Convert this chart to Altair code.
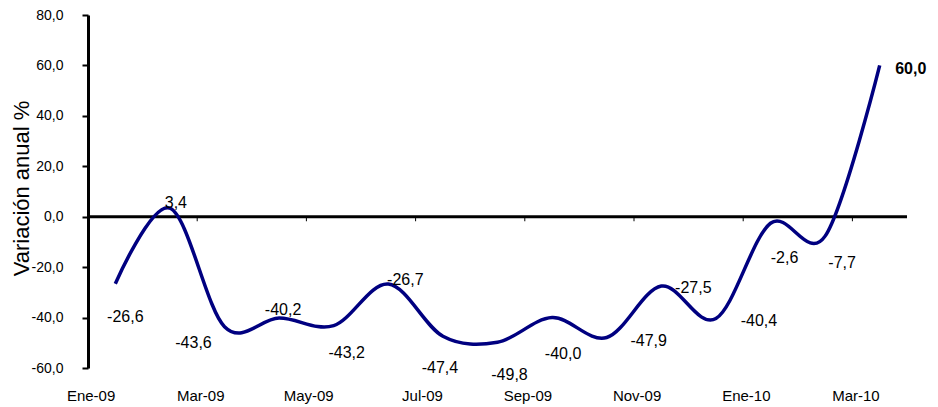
import altair as alt
import pandas as pd

months = ["Ene-09", "Feb-09", "Mar-09", "Abr-09", "May-09", "Jun-09", "Jul-09", "Ago-09",
          "Sep-09", "Oct-09", "Nov-09", "Dic-09", "Ene-10", "Feb-10", "Mar-10"]
values = [-26.6, 3.4, -43.6, -40.2, -43.2, -26.7, -47.4, -49.8,
          -40.0, -47.9, -27.5, -40.4, -2.6, -7.7, 60.0]
y_ticks = [-60, -40, -20, 0, 20, 40, 60, 80]

# label placement offsets (pixels) for each data label
label_dx = [10, 6, -31, 4, 13, 17, -3, 12, 11, 42, 32, 43, 14, 17, 31]
label_dy = [33, -5, 16, -8, 27, -4, 32, 33, 36, 4, 2, 2, 35, 27, 4]

axis_label_months = months[0::2]
tick_months = months[2::2]

df = pd.DataFrame({
    "month": months,
    "value": values,
    "label": [f"{v:.1f}".replace(".", ",") for v in values],
})

FONT = "Liberation Sans"
xscale = alt.Scale(type="band", domain=months, paddingInner=0, paddingOuter=0)
yscale = alt.Scale(domain=[-60, 80], nice=False, zero=False)

zero_line = alt.Chart(pd.DataFrame({"z": [0]})).mark_rule(color="black", strokeWidth=3).encode(
    y=alt.Y("z:Q", scale=yscale)
)

ticks = alt.Chart(pd.DataFrame({"month": tick_months})).mark_rule(color="black", strokeWidth=1).encode(
    x=alt.X("month:O", scale=xscale, bandPosition=0),
    y=alt.datum(0),
    y2=alt.datum(-1.8),
)

line = alt.Chart(df).mark_line(color="#000080", strokeWidth=3.5, interpolate="cardinal").encode(
    x=alt.X("month:O", scale=xscale, bandPosition=0.5,
            axis=alt.Axis(values=axis_label_months, title=None, domain=False, ticks=False,
                          tickSize=0, labelPadding=27, labelAngle=0, labelFontSize=15,
                          labelFont=FONT, labelColor="black", grid=False)),
    y=alt.Y("value:Q", scale=yscale,
            axis=alt.Axis(values=y_ticks, title="Variación anual %", grid=False,
                          labelExpr="(datum.value < 0 ? '-' : '') + replace(format(abs(datum.value), '.1f'), '.', ',')",
                          labelFontSize=14, labelFont=FONT, labelColor="black", labelPadding=19,
                          domainColor="black", domainWidth=3, tickColor="black", tickWidth=2,
                          tickSize=6, titleFont=FONT, titleFontSize=22, titleFontWeight="normal",
                          titleColor="black", titleBaseline="alphabetic", titleX=-60, titleY=173)),
)

texts = []
for i, m in enumerate(months):
    texts.append(
        alt.Chart(df).transform_filter(alt.datum.month == m).mark_text(
            dx=label_dx[i], dy=label_dy[i], fontSize=16, font=FONT, color="black",
            fontWeight="bold" if i == len(months) - 1 else "normal",
            align="center", baseline="middle",
        ).encode(
            x=alt.X("month:O", scale=xscale, bandPosition=0.5),
            y=alt.Y("value:Q", scale=yscale),
            text="label:N",
        )
    )

chart = alt.layer(zero_line, ticks, line, *texts).properties(
    width=819, height=353,
    autosize=alt.AutoSizeParams(type="none"),
    padding={"left": 80, "top": 7, "right": 22, "bottom": 38},
).configure_view(strokeWidth=0)

chart.save("out.html", embed_options={"renderer": "svg", "actions": False})
